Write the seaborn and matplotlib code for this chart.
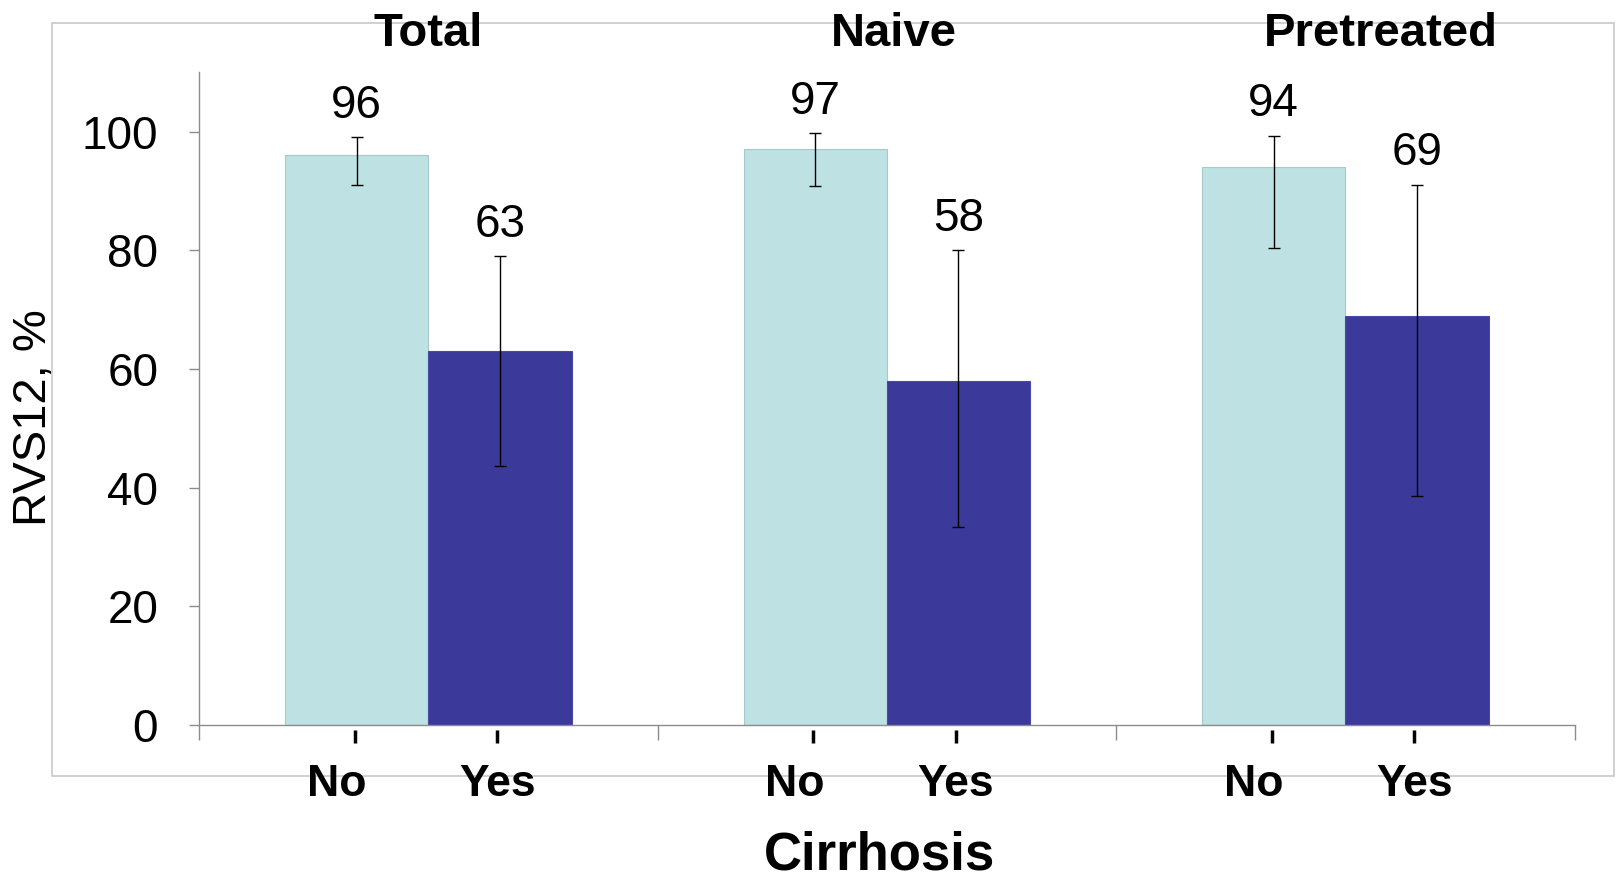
import matplotlib
matplotlib.use("Agg")
import matplotlib.pyplot as plt
from matplotlib.patches import Rectangle
import seaborn as sns
import pandas as pd

# Sustained virological response by cirrhosis status
groups = ["Total", "Naive", "Pretreated"]
cirrhosis = ["No", "Yes"]
svr_no = [96, 97, 94]
svr_yes = [63, 58, 69]
ci_low_no = [91, 90.8, 80.3]
ci_high_no = [99, 99.7, 99.3]
ci_low_yes = [43.7, 33.4, 38.6]
ci_high_yes = [79, 80, 91]
yticks = [0, 20, 40, 60, 80, 100]

light = "#bee2e4"
dark = "#3b3a9b"

sns.set_style("white")
plt.rcParams["font.family"] = ["Liberation Sans", "DejaVu Sans"]
plt.rcParams["text.color"] = "black"
plt.rcParams["ytick.labelcolor"] = "black"

df = pd.DataFrame({
    "group": groups * 2,
    "cirrhosis": ["No"] * 3 + ["Yes"] * 3,
    "svr": svr_no + svr_yes,
})

fig = plt.figure(figsize=(16.17, 8.8), dpi=100)
ax = fig.add_axes([0.1231, 0.1761, 0.9738 - 0.1231, 0.918 - 0.1761])

sns.barplot(data=df, x="group", y="svr", hue="cirrhosis", order=groups,
            hue_order=cirrhosis, palette=[light, dark], width=0.625,
            saturation=1, errorbar=None, legend=False, ax=ax,
            linewidth=0.8, zorder=2)

edge_cols = ["#a8c8cb", "#4a49a8"]
lows = [ci_low_no, ci_low_yes]
highs = [ci_high_no, ci_high_yes]
vals = [svr_no, svr_yes]
bar_containers = list(ax.containers)
for k, cont in enumerate(bar_containers):
    for i, patch in enumerate(cont.patches):
        patch.set_edgecolor(edge_cols[k])
        x = patch.get_x() + patch.get_width() / 2
        v = vals[k][i]
        ax.errorbar(x, v, yerr=[[v - lows[k][i]], [highs[k][i] - v]],
                    fmt="none", ecolor="black", elinewidth=1.0,
                    capsize=4, capthick=1.0, zorder=3)
        ax.annotate(str(v), xy=(x, highs[k][i]), xytext=(0, 14),
                    textcoords="offset points", ha="center", va="baseline",
                    fontsize=33, color="black")

ax.set_xlim(-0.5, 2.5)
ax.set_ylim(0, 110)
ax.set_yticks(yticks)
ax.set_yticklabels([str(t) for t in yticks], fontsize=33, color="black")
ax.set_xticks([-0.5, 0.5, 1.5, 2.5])
ax.set_xticklabels([])
ax.set_xlabel("")
ax.set_ylabel("")
ax.tick_params(axis="y", direction="out", length=7.4, width=1.0,
               color="#8c8c8c", pad=22, left=True)
ax.tick_params(axis="x", direction="out", length=11, width=1.0,
               color="#8c8c8c", bottom=True)
for side in ["top", "right"]:
    ax.spines[side].set_visible(False)
for side in ["left", "bottom"]:
    ax.spines[side].set_color("#8c8c8c")
    ax.spines[side].set_linewidth(1.0)

# Category marks and labels beneath each pair of bars
offs_tick = {"No": -0.16, "Yes": 0.15}
offs_lab = {"No": -0.2, "Yes": 0.15}
for g in range(len(groups)):
    for c in cirrhosis:
        ax.vlines(g + offs_tick[c], -0.007, -0.028,
                  transform=ax.get_xaxis_transform(), colors="black",
                  lw=2.5, clip_on=False)
        ax.text(g + offs_lab[c], -11.97, c, ha="center", va="baseline",
                fontsize=32, fontweight="bold", color="black", clip_on=False)

title_x = [0.0, 1.015, 2.078]
for g, tx in zip(groups, title_x):
    ax.text(tx, 114.35, g, ha="center", va="baseline", fontsize=34,
            fontweight="bold", color="black", clip_on=False)

ax.text(0.984, -24.3, "Cirrhosis", ha="center", va="baseline",
        fontsize=38, fontweight="bold", color="black", clip_on=False)
fig.text(0.021, 0.525, "RVS12, %", rotation=90, ha="center", va="center",
         fontsize=34, color="black")

fig.patches.append(Rectangle((51.6 / 1617, 1 - 776 / 880),
                             (1614 - 51.6) / 1617, (776 - 22.7) / 880,
                             transform=fig.transFigure, fill=False,
                             edgecolor="#c8c8c8", lw=1.2, zorder=-1))

fig.savefig("out.png", dpi=100)
